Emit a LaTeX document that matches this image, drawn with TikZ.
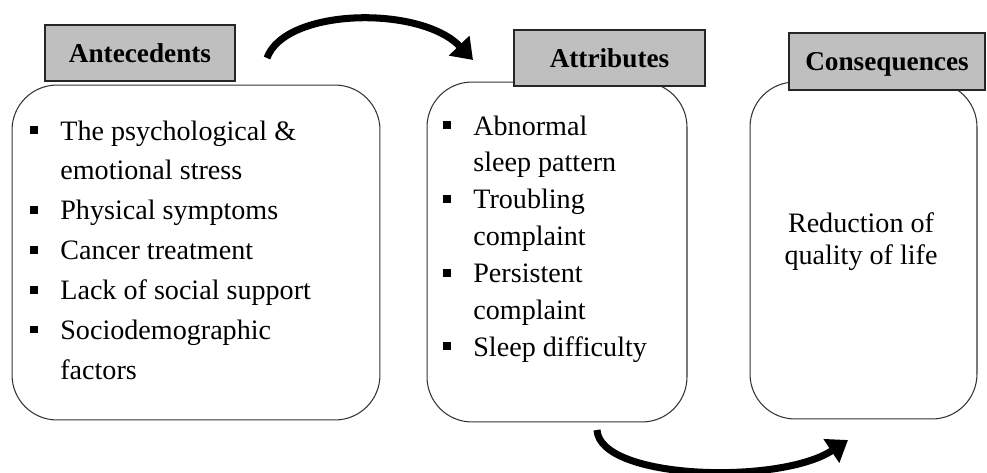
\documentclass[tikz,border=0pt]{standalone}
\usepackage{fontspec}
\setmainfont{Liberation Serif}
\usetikzlibrary{arrows.meta}

% square bullet and hanging indent for the lists
\newcommand{\sqbullet}{\rule[3.4pt]{4.5pt}{4.5pt}}
\newcommand{\itm}{\makebox[0.6cm][l]{\sqbullet}}
\newcommand{\cnt}{\hspace*{0.6cm}}

\begin{document}
\begin{tikzpicture}[x=0.02cm, y=-0.02cm,
        box/.style={draw=black!80, line width=0.6pt, rounded corners=0.9cm, inner sep=0pt},
        head/.style={draw=black!85, line width=0.9pt, fill=gray!50, inner sep=0pt, text depth=0pt,
            font=\fontsize{15.5}{18}\selectfont\bfseries},
        body/.style={inner sep=0pt, font=\fontsize{16}{22.7}\selectfont},
        flowarrow/.style={line width=4pt, -{Triangle[length=0.4cm,width=0.55cm]}}]

        \useasboundingbox (0,0) rectangle (987,473);

        % Rounded boxes
        \node[box, minimum width=7.36cm, minimum height=6.7cm] (ante) at (196,252.5) {};
        \node[box, minimum width=5.2cm, minimum height=6.8cm] (attr) at (557,252) {};
        \node[box, minimum width=4.54cm, minimum height=6.74cm] (cons) at (863.5,250.5) {};

        % Grey headers (drawn over the box outlines)
        \node[head, minimum width=3.8cm, minimum height=1.12cm] (antehead) at (140,53) {Antecedents};
        \node[head, minimum width=3.82cm, minimum height=1.12cm] (attrhead) at (609.5,58) {Attributes};
        \node[head, minimum width=3.92cm, minimum height=1.14cm] (conshead) at (887,61.5) {Consequences};

        % Antecedents list
        \node[body, anchor=base west] (antetext) at (30,140) {\begin{tabular}[t]{@{}l@{}}
            \itm The psychological \&\\
            \cnt emotional stress\\
            \itm Physical symptoms\\
            \itm Cancer treatment\\
            \itm Lack of social support\\
            \itm Sociodemographic\\
            \cnt factors
        \end{tabular}};

        % Attributes list
        \node[body, font=\fontsize{16}{21}\selectfont, anchor=base west] (attrtext) at (443,135) {\begin{tabular}[t]{@{}l@{}}
            \itm Abnormal\\
            \cnt sleep pattern\\
            \itm Troubling\\
            \cnt complaint\\
            \itm Persistent\\
            \cnt complaint\\
            \itm Sleep difficulty
        \end{tabular}};

        % Consequences text
        \node[body, font=\fontsize{16}{18.7}\selectfont, anchor=base] (constext) at (861,232) {\begin{tabular}[t]{@{}c@{}}
            Reduction of\\
            quality of life
        \end{tabular}};

        % Curved arrows
        \coordinate (topfrom) at (267,58);
        \coordinate (topto) at (473,60);
        \draw[flowarrow] (topfrom) .. controls (285,8) and (420,5) .. (topto);

        \coordinate (botfrom) at (597,430);
        \coordinate (botto) at (848,440);
        \draw[flowarrow] (botfrom) .. controls (600,480) and (780,485) .. (botto);
    \end{tikzpicture}
\end{document}
